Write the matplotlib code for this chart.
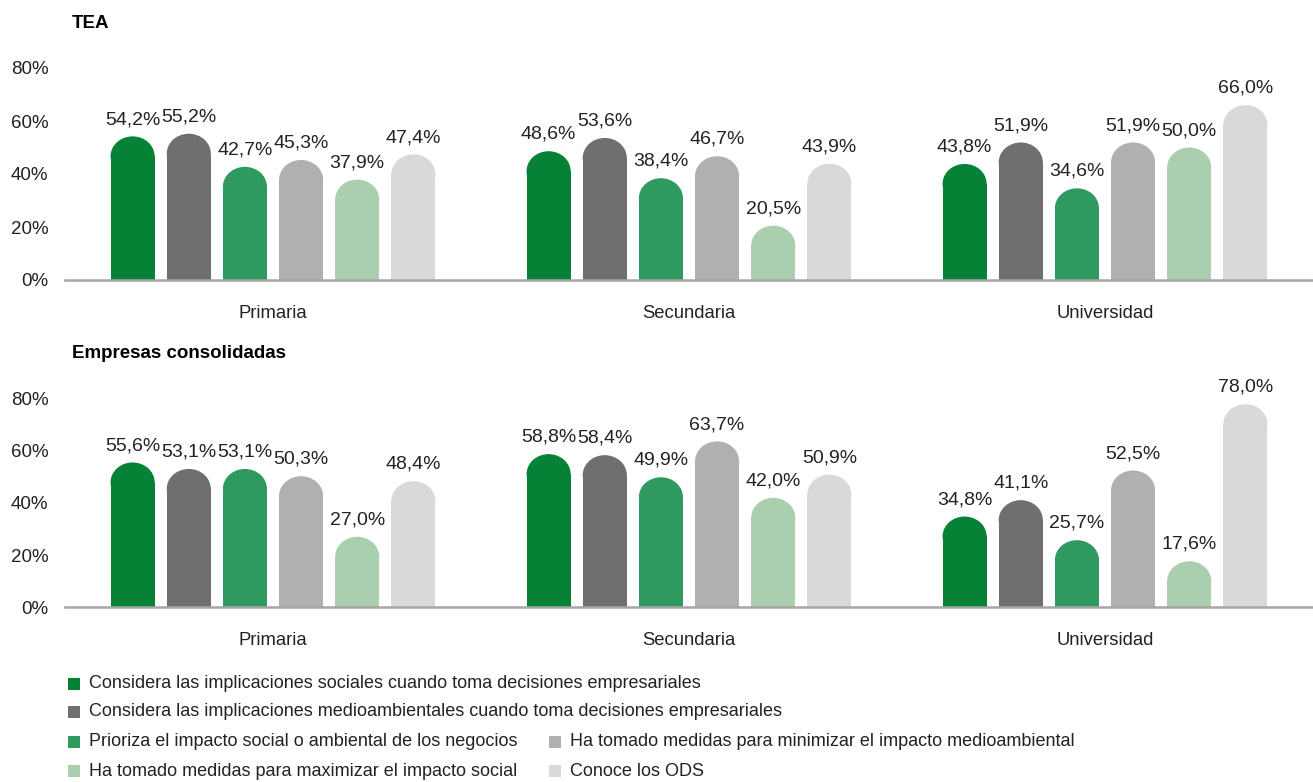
import matplotlib
matplotlib.use('Agg')
import matplotlib.pyplot as plt
from matplotlib.patches import Ellipse, Rectangle
import numpy as np

plt.rcParams['font.family'] = ['Liberation Sans', 'DejaVu Sans']

categories = ['Primaria', 'Secundaria', 'Universidad']
series = ['Considera las implicaciones sociales cuando toma decisiones empresariales',
          'Considera las implicaciones medioambientales cuando toma decisiones empresariales',
          'Prioriza el impacto social o ambiental de los negocios',
          'Ha tomado medidas para minimizar el impacto medioambiental',
          'Ha tomado medidas para maximizar el impacto social',
          'Conoce los ODS']
colors = ['#068237', '#6f6f6f', '#2e9a5f', '#b0b0b0', '#a9cfae', '#d9d9d9']

# rows = series, columns = categories
tea = [[54.2, 48.6, 43.8],
       [55.2, 53.6, 51.9],
       [42.7, 38.4, 34.6],
       [45.3, 46.7, 51.9],
       [37.9, 20.5, 50.0],
       [47.4, 43.9, 66.0]]
consolidadas = [[55.6, 58.8, 34.8],
                [53.1, 58.4, 41.1],
                [53.1, 49.9, 25.7],
                [50.3, 63.7, 52.5],
                [27.0, 42.0, 17.6],
                [48.4, 50.9, 78.0]]

W, H = 1313, 782
fig = plt.figure(figsize=(W / 100, H / 100), dpi=100)

bar_w = 0.106
step = 0.135


def panel(bottom_px, top_px, data, title):
    ax = fig.add_axes([65 / W, 1 - bottom_px / H, 1 - 65 / W, (bottom_px - top_px) / H])
    ax.set_xlim(-0.5, 2.5)
    ax.set_ylim(0, 80)
    px_per_unit = (bottom_px - top_px) / 80
    rx = bar_w / 2
    ry = (0.9 * bar_w / 2 * (W - 65) / 3) / px_per_unit  # round top in screen space
    x = np.arange(len(categories))
    for i, vals in enumerate(data):
        xs = x + (i - 2.5) * step
        for xi, v in zip(xs, vals):
            ax.bar(xi, v - ry, width=bar_w, color=colors[i], linewidth=0)
            ax.add_patch(Ellipse((xi, v - ry), 2 * rx, 2 * ry, color=colors[i], linewidth=0))
            ax.annotate(f'{v:.1f}%'.replace('.', ','), (xi, v), xytext=(0, 6),
                        textcoords='offset points', ha='center', va='bottom',
                        fontsize=14, color='#222222', annotation_clip=False)
    for s in ['top', 'right', 'left']:
        ax.spines[s].set_visible(False)
    ax.spines['bottom'].set_color('#a6a6a6')
    ax.spines['bottom'].set_linewidth(1.8)
    ax.set_yticks([0, 20, 40, 60, 80])
    ax.set_yticklabels(['0%', '20%', '40%', '60%', '80%'], fontsize=13.5, color='#222222')
    ax.set_xticks(x)
    ax.set_xticklabels(categories, fontsize=13.3, color='#222222')
    ax.tick_params(axis='y', length=0, pad=12)
    ax.tick_params(axis='x', length=0, pad=18)
    fig.text(72 / W, 1 - (top_px - 45) / H, title, fontsize=13.5, fontweight='bold',
             ha='left', va='center', color='black')
    return ax


panel(280, 68, tea, 'TEA')
panel(607, 399, consolidadas, 'Empresas consolidadas')

# legend laid out as in the reference
legend_pos = [(74, 684), (74, 712), (74, 742), (555, 742), (74, 771), (555, 771)]
for (lx, ly), lab, c in zip(legend_pos, series, colors):
    fig.patches.append(Rectangle(((lx - 6) / W, 1 - (ly + 6) / H), 12 / W, 12 / H,
                                 transform=fig.transFigure, color=c, linewidth=0))
    fig.text((lx + 15) / W, 1 - ly / H, lab, fontsize=13, ha='left', va='center',
             color='#222222')

fig.savefig('out.png', dpi=100)
